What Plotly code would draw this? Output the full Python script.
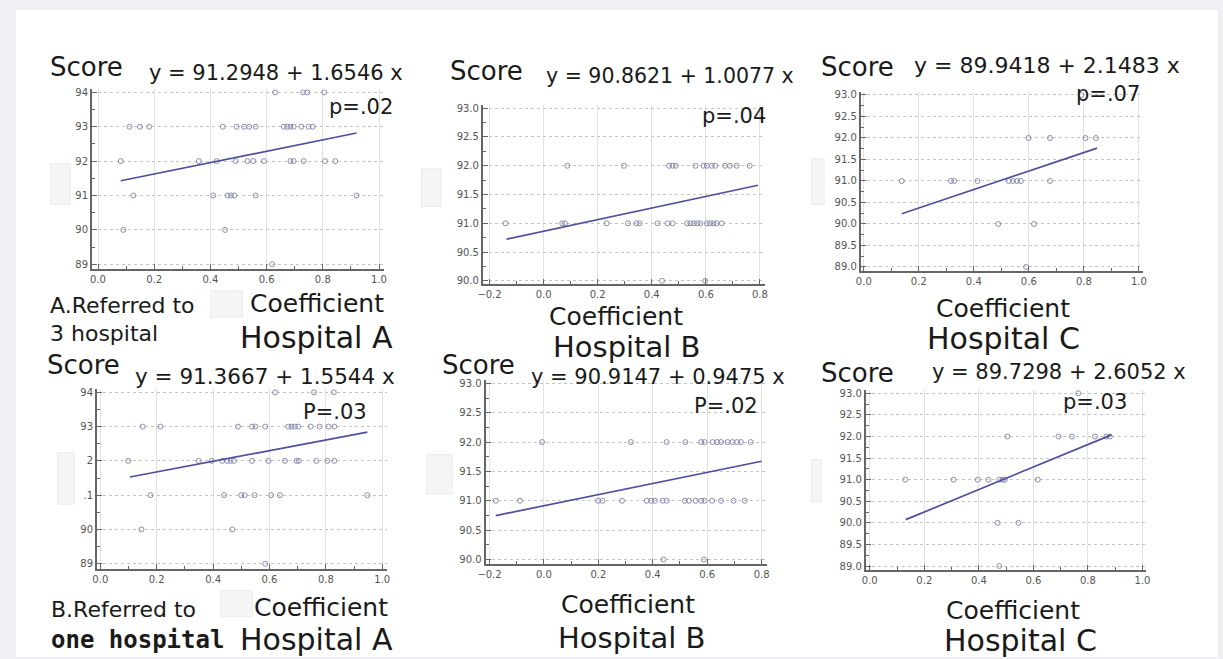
import plotly.graph_objects as go

W, H = 1223, 659

# ---------------- data ----------------
# Top row: A. Referred to 3 hospital
a1_x = [0.63, 0.73, 0.745, 0.805,
        0.112, 0.149, 0.182, 0.444, 0.493, 0.52, 0.538, 0.561, 0.661, 0.673, 0.685, 0.696, 0.724, 0.749, 0.764,
        0.081, 0.359, 0.422, 0.49, 0.532, 0.553, 0.59, 0.685, 0.696, 0.732, 0.808, 0.844,
        0.126, 0.41, 0.461, 0.473, 0.485, 0.561, 0.92,
        0.09, 0.452,
        0.62]
a1_y = [94, 94, 94, 94,
        93, 93, 93, 93, 93, 93, 93, 93, 93, 93, 93, 93, 93, 93, 93,
        92, 92, 92, 92, 92, 92, 92, 92, 92, 92, 92, 92,
        91, 91, 91, 91, 91, 91, 91,
        90, 90,
        89]

b1_x = [0.088, 0.297, 0.464, 0.477, 0.489, 0.562, 0.592, 0.604, 0.622, 0.635, 0.671, 0.689, 0.714, 0.762,
        -0.141, 0.069, 0.079, 0.233, 0.312, 0.343, 0.355, 0.422, 0.458, 0.477, 0.531, 0.543, 0.556, 0.568,
        0.58, 0.604, 0.616, 0.628, 0.640, 0.659,
        0.438, 0.598]
b1_y = [92, 92, 92, 92, 92, 92, 92, 92, 92, 92, 92, 92, 92, 92,
        91, 91, 91, 91, 91, 91, 91, 91, 91, 91, 91, 91, 91, 91,
        91, 91, 91, 91, 91, 91,
        90, 90]

c1_x = [0.79,
        0.599, 0.677, 0.806, 0.844,
        0.138, 0.317, 0.329, 0.413, 0.527, 0.542, 0.557, 0.571, 0.677,
        0.489, 0.619,
        0.59]
c1_y = [93,
        92, 92, 92, 92,
        91, 91, 91, 91, 91, 91, 91, 91, 91,
        90, 90,
        89]

# Bottom row: B. Referred to one hospital
a2_x = [0.62, 0.758, 0.828,
        0.15, 0.213, 0.488, 0.538, 0.55, 0.585, 0.667, 0.678, 0.69, 0.702, 0.746, 0.778, 0.809, 0.83,
        0.099, 0.349, 0.395, 0.433, 0.45, 0.462, 0.474, 0.538, 0.596, 0.655, 0.696, 0.704, 0.766, 0.805, 0.83,
        0.178, 0.439, 0.5, 0.512, 0.547, 0.606, 0.637, 0.947,
        0.146, 0.468,
        0.585]
a2_y = [94, 94, 94,
        93, 93, 93, 93, 93, 93, 93, 93, 93, 93, 93, 93, 93, 93,
        92, 92, 92, 92, 92, 92, 92, 92, 92, 92, 92, 92, 92, 92, 92,
        91, 91, 91, 91, 91, 91, 91, 91,
        90, 90,
        89]

b2_x = [-0.007, 0.32, 0.451, 0.52, 0.578, 0.59, 0.62, 0.636, 0.651, 0.675, 0.693, 0.709, 0.724, 0.76,
        -0.177, -0.088, 0.199, 0.215, 0.287, 0.378, 0.394, 0.408, 0.436, 0.451, 0.518, 0.533, 0.558, 0.578,
        0.59, 0.618, 0.651, 0.697, 0.738,
        0.439, 0.588]
b2_y = [92, 92, 92, 92, 92, 92, 92, 92, 92, 92, 92, 92, 92, 92,
        91, 91, 91, 91, 91, 91, 91, 91, 91, 91, 91, 91, 91, 91,
        91, 91, 91, 91, 91,
        90, 90]

c2_x = [0.765,
        0.505, 0.692, 0.741, 0.826, 0.868, 0.88,
        0.13, 0.307, 0.396, 0.435, 0.475, 0.487, 0.495, 0.616,
        0.469, 0.545,
        0.475]
c2_y = [93,
        92, 92, 92, 92, 92, 92,
        91, 91, 91, 91, 91, 91, 91, 91,
        90, 90,
        89]

intercepts = [91.2948, 90.8621, 89.9418, 91.3667, 90.9147, 89.7298]
slopes = [1.6546, 1.0077, 2.1483, 1.5544, 0.9475, 2.6052]
fit_x_start = [0.081, -0.137, 0.138, 0.105, -0.177, 0.132]
fit_x_end = [0.92, 0.793, 0.848, 0.947, 0.80, 0.886]
equations = ["y = 91.2948 + 1.6546 x", "y = 90.8621 + 1.0077 x", "y = 89.9418 + 2.1483 x",
             "y = 91.3667 + 1.5544 x", "y = 90.9147 + 0.9475 x", "y = 89.7298 + 2.6052 x"]
p_labels = ["p=.02", "p=.04", "p=.07", "P=.03", "P=.02", "p=.03"]
hospitals = ["Hospital A", "Hospital B", "Hospital C", "Hospital A", "Hospital B", "Hospital C"]
a_tick_vals = [89, 90, 91, 92, 93, 94]
a1_tick_text = ["89", "90", "91", "92", "93", "94"]
a2_tick_text = ["89", "90", ".1", "2", "93", "94"]

xs = [a1_x, b1_x, c1_x, a2_x, b2_x, c2_x]
ys = [a1_y, b1_y, c1_y, a2_y, b2_y, c2_y]

# ---------------- layout geometry (pixels) ----------------
panels = [
    dict(px=(85, 380), py=(87, 268), xr=(-0.0211, 1.0176), yr=(88.864, 94.087), kind="A", xd=0.2),
    dict(px=(480, 765), py=(103, 283), xr=(-0.2245, 0.8183), yr=(89.948, 93.052), kind="B", xd=0.2),
    dict(px=(862, 1147), py=(90, 270), xr=(-0.0108, 1.0144), yr=(88.908, 93.062), kind="C", xd=0.2),
    dict(px=(90, 383), py=(389, 570), xr=(-0.0116, 1.0165), yr=(88.855, 94.096), kind="A", xd=0.2),
    dict(px=(482.7, 767), py=(380, 565), xr=(-0.2145, 0.8193), yr=(89.927, 93.056), kind="B", xd=0.2),
    dict(px=(867, 1150), py=(390, 571), xr=(-0.0145, 1.012), yr=(88.915, 93.076), kind="C", xd=0.2),
]

fig = go.Figure()
axis_color = "#666666"
tick_font = dict(family="DejaVu Sans", size=10, color="#555555")

for i, p in enumerate(panels):
    n = i + 1
    xa = "x" if n == 1 else f"x{n}"
    ya = "y" if n == 1 else f"y{n}"
    fig.add_trace(go.Scatter(
        x=xs[i], y=ys[i], mode="markers", xaxis=xa, yaxis=ya,
        marker=dict(symbol="circle-open", size=5, color="#8a8cae", line=dict(width=1, color="#8a8cae")),
        showlegend=False, hoverinfo="skip"))
    fx = [fit_x_start[i], fit_x_end[i]]
    fy = [intercepts[i] + slopes[i] * v for v in fx]
    fig.add_trace(go.Scatter(
        x=fx, y=fy, mode="lines", xaxis=xa, yaxis=ya,
        line=dict(color="#4f4f9c", width=1.7), showlegend=False, hoverinfo="skip"))

    xkey = "xaxis" if n == 1 else f"xaxis{n}"
    ykey = "yaxis" if n == 1 else f"yaxis{n}"
    xdict = dict(
        domain=[p["px"][0] / W, p["px"][1] / W], range=list(p["xr"]), anchor=ya,
        dtick=p["xd"], tick0=0, tickformat=".1f",
        showline=True, linecolor=axis_color, linewidth=2, mirror=False,
        ticks="inside", ticklen=5, tickcolor=axis_color, tickwidth=1,
        minor=dict(ticks="inside", ticklen=3, dtick=0.1, tickcolor=axis_color, showgrid=False),
        showgrid=True, gridcolor="#e2e2e2", gridwidth=1,
        zeroline=False, tickfont=tick_font, fixedrange=True)
    ydict = dict(
        domain=[1 - p["py"][1] / H, 1 - p["py"][0] / H], range=list(p["yr"]), anchor=xa,
        showline=True, linecolor=axis_color, linewidth=2, mirror=False,
        ticks="inside", ticklen=5, tickcolor=axis_color, tickwidth=1,
        showgrid=True, gridcolor="#c4c4c4", gridwidth=1, griddash="dot",
        zeroline=False, tickfont=tick_font, fixedrange=True)
    if p["kind"] == "A":
        ydict.update(tickmode="array", tickvals=a_tick_vals,
                     ticktext=a1_tick_text if n == 1 else a2_tick_text,
                     minor=dict(ticks="inside", ticklen=3, dtick=0.5, tickcolor=axis_color, showgrid=False))
    else:
        ydict.update(dtick=0.5, tick0=90, tickformat=".1f",
                     minor=dict(ticks="inside", ticklen=3, dtick=0.25, tickcolor=axis_color, showgrid=False))
    fig.layout[xkey] = xdict
    fig.layout[ykey] = ydict

# ---------------- text ----------------
txt_color = "#1a1a1a"
ann = []


def add_text(text, x, y, size, family="DejaVu Sans", weight="normal"):
    ann.append(dict(text=text, x=x / W, y=1 - y / H, xref="paper", yref="paper",
                    xanchor="left", yanchor="middle", showarrow=False, borderpad=0,
                    font=dict(family=family, size=size, color=txt_color, weight=weight)))


score_pos = [(41, 64), (446, 69), (821, 64), (38, 365), (438, 365), (821, 373)]
eq_pos = [(142, 71), (543, 74), (915, 63), (127, 376), (528, 377), (933, 372)]
eq_size = [21, 20.5, 22, 21.5, 21, 21]
p_pos = [(323, 105), (700, 114), (1078, 92), (297, 412), (692, 406), (1065, 402)]
coef_pos = [(244, 303), (546, 316), (937, 308), (248, 609), (558, 606), (947, 612)]
hosp_pos = [(233, 337), (550, 347), (928, 338), (233, 641), (555, 640), (945, 642)]
hosp_size = [30, 29, 30, 30, 29, 30]

for i in range(6):
    add_text("Score", *score_pos[i], 26)
    add_text(equations[i], *eq_pos[i], eq_size[i])
    add_text(p_labels[i], *p_pos[i], 21)
    add_text("Coefficient", *coef_pos[i], 25)
    add_text(hospitals[i], *hosp_pos[i], hosp_size[i])

add_text("A.Referred to", 41, 305, 22)
add_text("3 hospital", 41, 333, 22)
add_text("B.Referred to", 42, 611, 22)
add_text("one hospital", 42, 642, 24, family="DejaVu Sans Mono", weight="bold")

# ---------------- background and faint patches ----------------
shapes = [dict(type="rect", xref="paper", yref="paper", x0=8 / W, x1=1, y0=0, y1=1 - 7 / H,
               fillcolor="white", line=dict(width=0), layer="below")]
patches = [(43, 162, 63, 203), (418, 167, 438, 205), (812, 157, 825, 203),
           (50, 453, 67, 505), (423, 455, 449, 495), (812, 460, 822, 503),
           (205, 290, 237, 317), (215, 592, 247, 618)]
for (x0, y0, x1, y1) in patches:
    shapes.append(dict(type="rect", xref="paper", yref="paper",
                       x0=x0 / W, x1=x1 / W, y0=1 - y1 / H, y1=1 - y0 / H,
                       fillcolor="#f5f5f5", line=dict(width=1, color="#ececec"), layer="below"))

fig.update_layout(
    width=W, height=H, margin=dict(l=0, r=0, t=0, b=0),
    paper_bgcolor="#eef0f3", plot_bgcolor="rgba(0,0,0,0)",
    annotations=ann, shapes=shapes, showlegend=False,
)

fig.write_html(
    "out.html",
    config={"displayModeBar": False, "staticPlot": True},
    post_script=(
        "document.documentElement.style.margin='0';"
        "document.documentElement.style.overflow='hidden';"
        "document.body.style.margin='0';document.body.style.padding='0';"
        "document.body.style.overflow='hidden';"
        "var d=document.getElementById('{plot_id}');"
        "d.style.position='fixed';d.style.left='0px';d.style.top='0px';"
    ),
)
